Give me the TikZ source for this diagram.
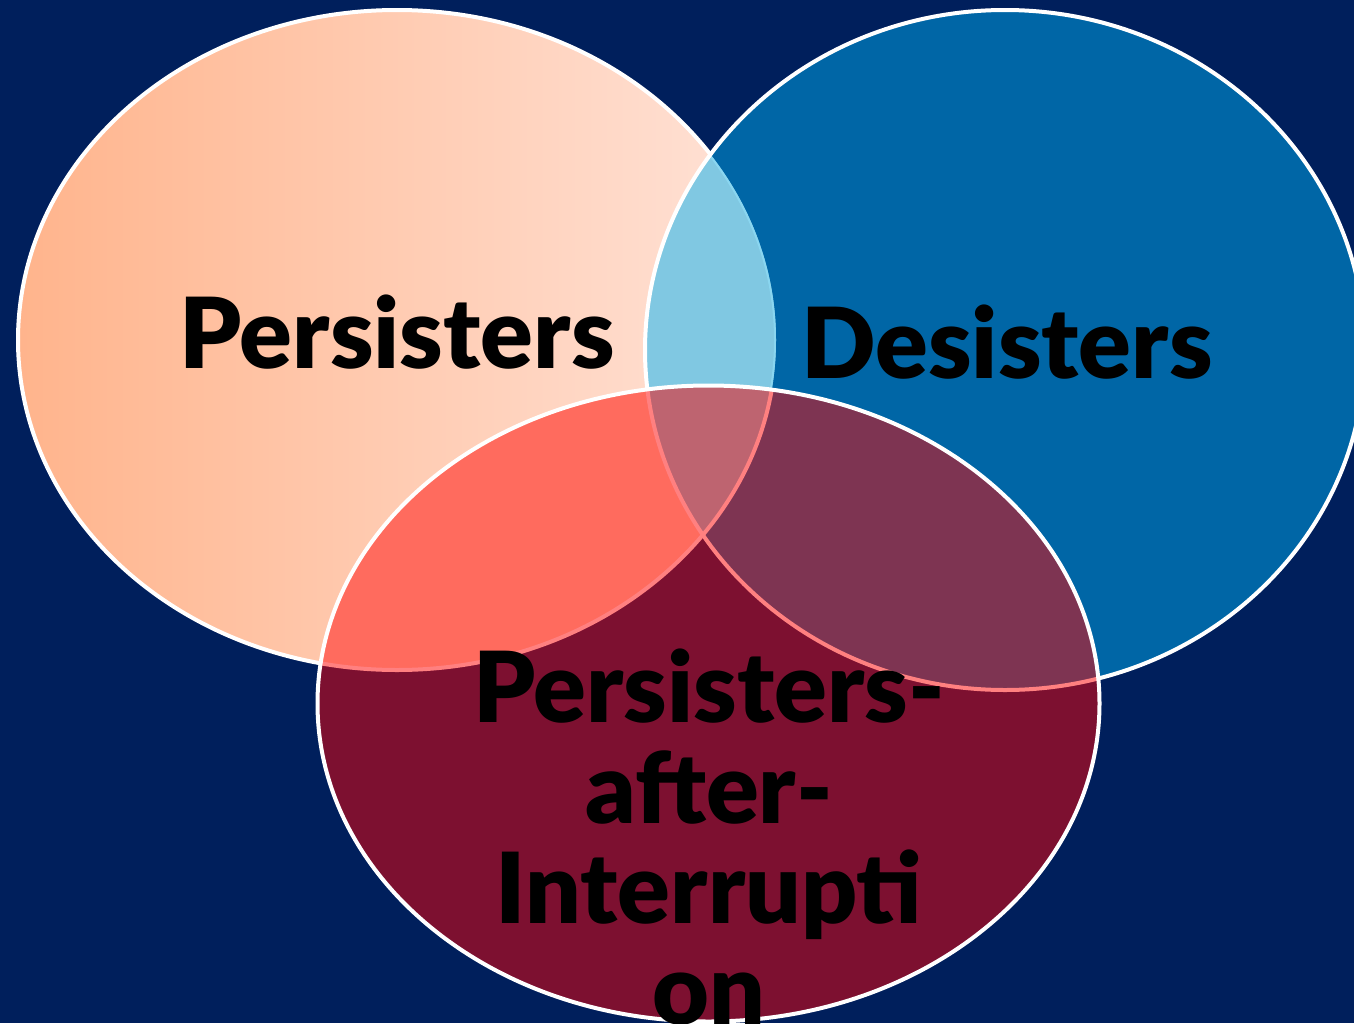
\documentclass[tikz,border=0pt]{standalone}
\usepackage{fontspec}
\setmainfont{Lato}[BoldFont={Lato Black}]
\definecolor{bgnavy}{HTML}{001F5C}
\definecolor{peachL}{HTML}{FFB48C}
\definecolor{peachR}{HTML}{FFE3D8}
\definecolor{desblue}{HTML}{0066A6}
\definecolor{lensPD}{HTML}{80C8E2}
\definecolor{paired}{HTML}{7D1030}
\definecolor{lensPR}{HTML}{FF6B5E}
\definecolor{lensDR}{HTML}{7E3452}
\definecolor{lensAll}{HTML}{BE6470}
\definecolor{edgeblue}{HTML}{8AD6F0}
\definecolor{edgepink}{HTML}{FF8080}
\newcommand{\pEll}{(397,340) ellipse [x radius=379pt, y radius=330pt]}
\newcommand{\dEll}{(1005,350) ellipse [x radius=360pt, y radius=340pt]}
\newcommand{\rEll}{(708.5,703.5) ellipse [x radius=391pt, y radius=318pt]}
\tikzset{
  rim/.style={draw=white, line width=4pt},
  label/.style={font=\bfseries\fontsize{98}{100.5}\selectfont, text=black, inner sep=0pt, align=center}
}
\begin{document}
\begin{tikzpicture}[x=1pt,y=-1pt]
\useasboundingbox (0,0) rectangle (1354,1023);
\clip (0,0) rectangle (1354,1023);
\fill[bgnavy] (0,0) rectangle (1354,1023);
% Persisters
\shade[left color=peachL, right color=peachR] \pEll;
\draw[rim] \pEll;
% Desisters
\fill[desblue] \dEll;
\begin{scope}
  \clip \pEll;
  \fill[lensPD] \dEll;
  \clip \dEll;
  \draw[draw=edgeblue, line width=4pt] \pEll;
\end{scope}
\draw[rim] \dEll;
% Persisters-after-Interruption
\fill[paired] \rEll;
\begin{scope}
  \clip \rEll;
  \begin{scope}
    \clip \pEll;
    \fill[lensPR] \rEll;
  \end{scope}
  \begin{scope}
    \clip \dEll;
    \fill[lensDR] \dEll;
    \clip \pEll;
    \fill[lensAll] \rEll;
  \end{scope}
  \draw[draw=edgepink, line width=4pt] \pEll;
  \draw[draw=edgepink, line width=4pt] \dEll;
\end{scope}
\draw[rim] \rEll;
% labels
\node[label, anchor=base] (lp) at (397,368) {Persisters};
\node[label, anchor=base] (ld) at (1007,378) {Desisters};
\node[label, anchor=base] (lr) at (709,1024) {Persisters-\\after-\\Interrupti\\on};
\end{tikzpicture}
\end{document}
